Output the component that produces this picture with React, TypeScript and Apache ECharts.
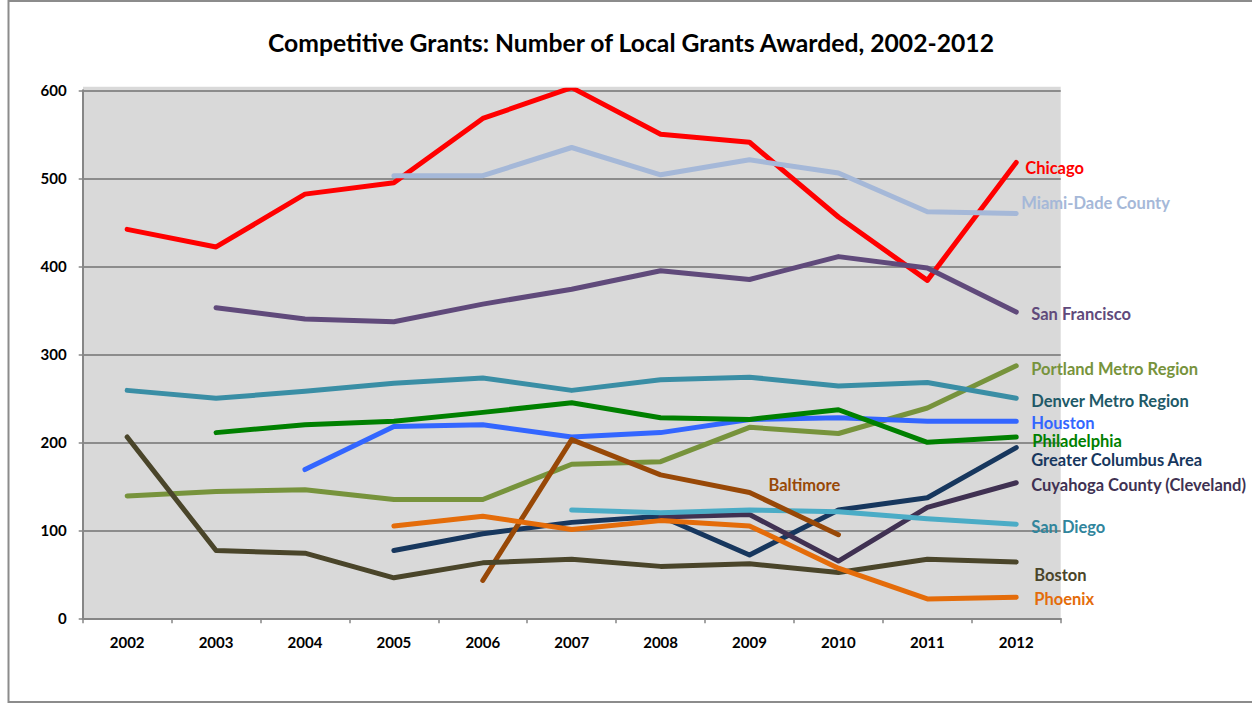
import React, { useEffect, useRef } from "react";
import * as echarts from "echarts";

const years = ["2002", "2003", "2004", "2005", "2006", "2007", "2008", "2009", "2010", "2011", "2012"];
const yTicks = [0, 100, 200, 300, 400, 500, 600];

const chicago = [442, 422, 482, 495, 568, 603, 550, 541, 456, 384, 518];
const miamiDade = [null, null, null, 503, 503, 535, 504, 521, 506, 462, 460];
const sanFrancisco = [null, 353, 340, 337, 357, 374, 395, 385, 411, 398, 348];
const portland = [139, 144, 146, 135, 135, 175, 178, 217, 210, 239, 287];
const denver = [259, 250, 258, 267, 273, 259, 271, 274, 264, 268, 250];
const houston = [null, null, 169, 218, 220, 206, 211, 226, 228, 224, 224];
const philadelphia = [null, 211, 220, 224, 234, 245, 228, 226, 237, 200, 206];
const columbus = [null, null, null, 77, 96, 109, 116, 72, 123, 137, 194];
const cuyahoga = [null, null, null, null, null, null, 115, 118, 65, 126, 154];
const sanDiego = [null, null, null, null, null, 123, 120, 123, 121, 113, 107];
const baltimore = [null, null, null, null, 43, 203, 163, 143, 95, null, null];
const boston = [206, 77, 74, 46, 63, 67, 59, 62, 52, 67, 64];
const phoenix = [null, null, null, 105, 116, 101, 111, 105, 57, 22, 24];

const seriesDefs = [
  { name: "Chicago", data: chicago, color: "#FF0000", labelColor: "#FF0000", off: [4, 6] },
  { name: "Miami-Dade County", data: miamiDade, color: "#A5B8D8", labelColor: "#A5B8D8", off: [0, -11] },
  { name: "San Francisco", data: sanFrancisco, color: "#604A7B", labelColor: "#604A7B", off: [10, 2] },
  { name: "Portland Metro Region", data: portland, color: "#77933C", labelColor: "#77933C", off: [10, 3] },
  { name: "Denver Metro Region", data: denver, color: "#3A8EA5", labelColor: "#215967", off: [10, 3] },
  { name: "Houston", data: houston, color: "#3366FF", labelColor: "#3366FF", off: [10, 2] },
  { name: "Philadelphia", data: philadelphia, color: "#008000", labelColor: "#008000", off: [11, 4] },
  { name: "Greater Columbus Area", data: columbus, color: "#17375E", labelColor: "#17375E", off: [10, 12] },
  { name: "Cuyahoga County (Cleveland)", data: cuyahoga, color: "#403152", labelColor: "#403152", off: [10, 2] },
  { name: "San Diego", data: sanDiego, color: "#4BACC6", labelColor: "#31859C", off: [10, 3] },
  { name: "Baltimore", data: baltimore, color: "#984807", labelColor: "#984807", off: [-75, -50] },
  { name: "Boston", data: boston, color: "#4A452A", labelColor: "#4A452A", off: [13, 13] },
  { name: "Phoenix", data: phoenix, color: "#E46C0A", labelColor: "#E46C0A", off: [13, 2] },
];

export default function App() {
  const ref = useRef<HTMLDivElement>(null);
  useEffect(() => {
    if (!ref.current) return;
    const chart = echarts.init(ref.current, null, { renderer: "svg" });
    const font = "Lato, 'Open Sans', sans-serif";
    chart.setOption({
      animation: false,
      backgroundColor: "#FFFFFF",
      title: {
        text: "Competitive Grants: Number of Local Grants Awarded, 2002-2012",
        left: 626,
        top: 25,
        textAlign: "center",
        textStyle: { fontFamily: font, fontSize: 24.7, fontWeight: "bold", color: "#000000" },
      },
      graphic: [
        {
          type: "rect",
          z: -10,
          shape: { x: 8.5, y: 1, width: 1270, height: 701 },
          style: { fill: "none", stroke: "#8C8C8C", lineWidth: 2 },
        },
        {
          type: "rect",
          z: -10,
          shape: { x: 83, y: 86.7, width: 977.7, height: 4 },
          style: { fill: "#D9D9D9" },
        },
      ],
      grid: {
        left: 82.7,
        right: 191.3,
        top: 90.3,
        bottom: 86.7,
        show: true,
        backgroundColor: "#D9D9D9",
        borderWidth: 0,
      },
      xAxis: {
        type: "category",
        data: years,
        boundaryGap: true,
        axisLine: { show: true, lineStyle: { color: "#868686", width: 2 } },
        axisTick: { show: true, length: 5, lineStyle: { color: "#868686", width: 1.5 } },
        axisLabel: { fontFamily: font, fontSize: 15, fontWeight: "bold", color: "#000000", margin: 16 },
        splitLine: { show: false },
      },
      yAxis: {
        type: "value",
        min: yTicks[0],
        max: yTicks[yTicks.length - 1],
        interval: 100,
        axisLine: { show: true, lineStyle: { color: "#868686", width: 2 } },
        axisTick: { show: true, length: 4, lineStyle: { color: "#868686", width: 1.5 } },
        axisLabel: { fontFamily: font, fontSize: 15, fontWeight: "bold", color: "#000000", margin: 16 },
        splitLine: { show: true, lineStyle: { color: "#8C8C8C", width: 2 } },
      },
      series: seriesDefs.map((s) => ({
        name: s.name,
        type: "line",
        data: s.data,
        showSymbol: false,
        symbol: "none",
        lineStyle: { color: s.color, width: 5, cap: "round", join: "round" },
        itemStyle: { color: s.color },
        endLabel: {
          show: true,
          formatter: s.name,
          color: s.labelColor,
          fontFamily: font,
          fontSize: 16.5,
          fontWeight: "bold",
          distance: 5,
          offset: s.off,
        },
      })),
    });
    return () => chart.dispose();
  }, []);
  return <div ref={ref} style={{ position: "fixed", left: 0, top: 0, width: 1252, height: 705 }} />;
}
